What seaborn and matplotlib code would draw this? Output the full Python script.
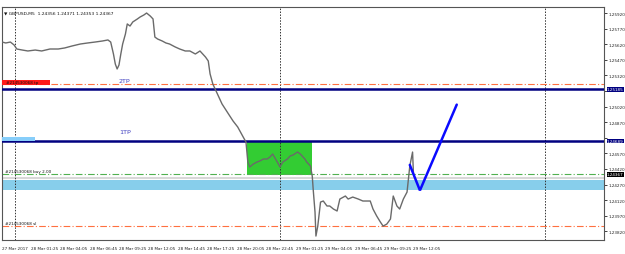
import numpy as np
import pandas as pd
import matplotlib
matplotlib.use("Agg")
import matplotlib.pyplot as plt
import seaborn as sns
from matplotlib.patches import Rectangle

# ---- data (5-minute bars counted from 28 Mar 2017 00:00) ----
bars = [-14, -10, -5, -1, 2, 8, 14, 22, 29, 38, 47, 54, 62, 71, 79, 87, 95, 101, 104, 107,
        109, 111, 113, 115, 117, 120, 122, 125, 128, 133, 136, 140, 143, 147, 150, 152, 155,
        160, 164, 168, 174, 179, 185, 190, 196, 201, 207, 210, 212, 215, 220, 225, 232, 237,
        242, 248, 251, 253, 255, 259, 263, 266, 270, 274, 277, 280, 285, 288, 291, 296, 299,
        302, 307, 310, 312, 315, 317, 321, 323, 324, 326, 327, 329, 332, 335, 339, 342, 346,
        350, 353, 359, 362, 367, 373, 378, 383, 386, 389, 393, 397, 400, 404, 408, 411, 415,
        418, 422, 426, 429, 432, 433]
close = [1.25641, 1.25632, 1.25641, 1.25613, 1.25574, 1.25564, 1.25555, 1.25564, 1.25555,
         1.25574, 1.25574, 1.25584, 1.25603, 1.25622, 1.25632, 1.25641, 1.25651, 1.25661,
         1.25641, 1.25526, 1.25430, 1.25382, 1.25420, 1.25526, 1.25622, 1.25718, 1.25815,
         1.25795, 1.25834, 1.25863, 1.25882, 1.25901, 1.25920, 1.25891, 1.25863, 1.25689,
         1.25670, 1.25651, 1.25632, 1.25622, 1.25594, 1.25574, 1.25555, 1.25555, 1.25526,
         1.25555, 1.25497, 1.25459, 1.25334, 1.25237, 1.25141, 1.25045, 1.24949, 1.24881,
         1.24824, 1.24727, 1.24679, 1.24487, 1.24439, 1.24468, 1.24487, 1.24497, 1.24516,
         1.24516, 1.24535, 1.24564, 1.24487, 1.24439, 1.24487, 1.24516, 1.24545, 1.24554,
         1.24583, 1.24564, 1.24545, 1.24516, 1.24487, 1.24449, 1.24352, 1.24227, 1.24006,
         1.23775, 1.23871, 1.24102, 1.24112, 1.24064, 1.24064, 1.24035, 1.24016, 1.24131,
         1.24160, 1.24131, 1.24150, 1.24131, 1.24112, 1.24112, 1.24112, 1.24035, 1.23968,
         1.23910, 1.23871, 1.23890, 1.23939, 1.24160, 1.24064, 1.24035, 1.24131, 1.24198,
         1.24449, 1.24583, 1.24367]

x_tick_bars = [17, 49, 81, 113, 145, 177, 209, 241, 273, 305, 337, 369, 401, 433]
x_tick_labels = ["28 Mar 01:25", "28 Mar 04:05", "28 Mar 06:45", "28 Mar 09:25",
                 "28 Mar 12:05", "28 Mar 14:45", "28 Mar 17:25", "28 Mar 20:05",
                 "28 Mar 22:45", "29 Mar 01:25", "29 Mar 04:05", "29 Mar 06:45",
                 "29 Mar 09:25", "29 Mar 12:05"]
first_label = "27 Mar 2017"
y_ticks = [1.25920, 1.25770, 1.25620, 1.25470, 1.25320, 1.25170, 1.25020, 1.24870,
           1.24720, 1.24570, 1.24420, 1.24270, 1.24120, 1.23970, 1.23820]
day_separators = [0, 288, 576]

tp2_level = 1.25185
tp1_level = 1.24689
order_tp = 1.25233
order_buy = 1.24372
order_sl = 1.23871
ask_level = 1.24333
zone_low, zone_high = 1.24218, 1.24314
box_bars = [252, 323]
box_prices = [1.24362, 1.24689]
v_bars = [429, 440, 480]
v_prices = [1.24459, 1.24214, 1.25039]
last_price = 1.24367
header = "GBPUSD,M5  1.24356 1.24371 1.24353 1.24367"

# ---- figure ----
sns.set_style("white")
plt.rcParams["font.family"] = ["DejaVu Sans"]
W, H = 625, 255
fig = plt.figure(figsize=(W / 100, H / 100), dpi=100)
ax = fig.add_axes([2 / W, (H - 241) / H, (604 - 2) / W, (241 - 8) / H])
xmin, xmax = -14.1, 640
ymin, ymax = 1.23737, 1.25978
ax.set_xlim(xmin, xmax)
ax.set_ylim(ymin, ymax)

FS = 3.0

# zones and levels
ax.axhspan(zone_low, zone_high, color="#87ceeb", lw=0, zorder=1)
ax.axhline(ask_level, color="#d8d8d8", lw=1.5, zorder=1)
ax.add_patch(Rectangle((box_bars[0], box_prices[0]), box_bars[1] - box_bars[0],
                       box_prices[1] - box_prices[0], color="#33cc33", lw=0, zorder=1))
for b in day_separators:
    ax.axvline(b, color="#333333", lw=0.7, ls=(0, (1.5, 1.5)), zorder=1)
ax.axhline(order_tp, color="#ff7040", lw=0.8, ls=(0, (6, 2, 1, 2)), zorder=2)
ax.axhline(order_sl, color="#ff7040", lw=0.8, ls=(0, (6, 2, 1, 2)), zorder=2)
ax.axhline(order_buy, color="#50b050", lw=0.8, ls=(0, (6, 2, 1, 2)), zorder=2)
ax.axhline(tp2_level, color="#000080", lw=1.8, zorder=3)
ax.axhline(tp1_level, color="#000080", lw=1.8, zorder=3)

# price line
df = pd.DataFrame({"bar": bars, "close": close})
sns.lineplot(data=df, x="bar", y="close", color="#6a6a6a", lw=1.0, ax=ax, zorder=4,
             sort=False, estimator=None)

# blue V projection
ax.plot(v_bars, v_prices, color="#0a0aff", lw=1.8, zorder=5, solid_joinstyle="miter")

# left order labels
bw = (xmax - xmin) / 602
ax.add_patch(Rectangle((xmin, order_tp - 0.00002), 48 * bw, 0.00048, color="#ff1a1a",
                       lw=0, zorder=5))
ax.text(xmin + 4 * bw, order_tp + 0.00022, "#214530068 tp", fontsize=FS, color="#111111",
        va="center", ha="left", zorder=6)
ax.add_patch(Rectangle((xmin, tp1_level - 0.00003), 33 * bw, 0.00045, color="#87cefa",
                       lw=0, zorder=5))
ax.text(xmin + 3 * bw, order_buy + 0.00028, "#214530068 buy 2.00", fontsize=FS,
        color="#111111", va="center", ha="left", zorder=6)
ax.text(xmin + 3 * bw, order_sl + 0.00025, "#214530068 sl", fontsize=FS,
        color="#111111", va="center", ha="left", zorder=6)
ax.text(113, tp2_level + 0.00085, "2TP", fontsize=4.6, color="#4040c0", ha="left",
        va="center", zorder=6)
ax.text(113, tp1_level + 0.00095, "1TP", fontsize=4.6, color="#4040c0", ha="left",
        va="center", zorder=6)

# header
ax.text(0.004, 0.985, "\u25bc " + header, transform=ax.transAxes, fontsize=3.2,
        color="#111111", ha="left", va="top", zorder=6)

# axes styling
for s in ax.spines.values():
    s.set_color("#555555")
    s.set_linewidth(0.8)
ax.set_xlabel("")
ax.set_ylabel("")
ax.yaxis.tick_right()
highlights = [(tp2_level, "#000080"), (tp1_level, "#000080"), (last_price, "#000000")]
ax.set_yticks(y_ticks)
# tick labels hidden behind a highlighted price label are left blank, as in the terminal
ax.set_yticklabels([("" if any(abs(v - h) < 0.0004 for h, _ in highlights) else f"{v:.5f}")
                    for v in y_ticks])
ax.tick_params(axis="y", direction="out", length=2, width=0.6, pad=1.0,
               labelsize=FS, colors="#222222")
ax.set_xticks([xmin] + x_tick_bars)
xt = ax.set_xticklabels([first_label] + x_tick_labels)
for t in xt:
    t.set_ha("left")
ax.tick_params(axis="x", direction="out", length=2.5, width=0.6, pad=1.5,
               labelsize=FS, colors="#222222")

# highlighted price labels on the price axis
for lvl, bg in highlights:
    ax.annotate(f"{lvl:.5f}", xy=(1.0, lvl), xycoords=("axes fraction", "data"),
                xytext=(2.2, 0), textcoords="offset points", fontsize=FS, color="white",
                ha="left", va="center", annotation_clip=False, zorder=7,
                bbox=dict(boxstyle="square,pad=0.1", fc=bg, ec=bg, lw=0))

fig.savefig("out.png", dpi=100, facecolor="white")
